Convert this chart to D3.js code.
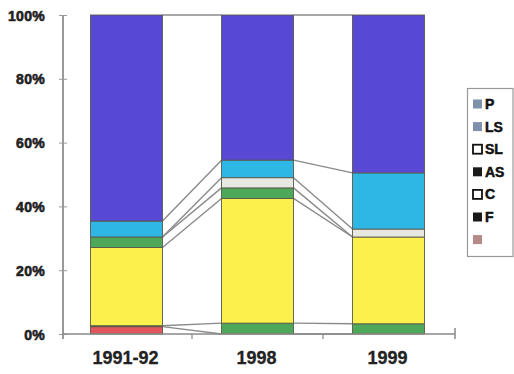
<!DOCTYPE html>
<html>
<head>
<meta charset="utf-8">
<script src="https://cdn.jsdelivr.net/npm/d3@7"></script>
<style>
  html, body { margin: 0; padding: 0; background: #fff; }
  svg { display: block; font-family: "Liberation Sans", Arial, sans-serif; }
</style>
</head>
<body>
<svg id="chart" width="514" height="374"></svg>
<script>
// Categories along the x axis
const categories = ["1991-92", "1998", "1999"];

// Series, stacked bottom to top (percent of each column)
const seriesNames = ["", "F", "C", "AS", "SL", "LS", "P"];
const valUnnamed = [2.3, 0.0, 0.0];
const valF  = [0.3, 3.4, 3.2];
const valC  = [24.5, 39.1, 27.2];
const valAS = [3.3, 3.3, 0.0];
const valSL = [0.0, 3.2, 2.5];
const valLS = [5.0, 5.5, 17.6];
const valP  = [64.6, 45.5, 49.5];

const yTicks = [0, 0.2, 0.4, 0.6, 0.8, 1.0];

// Fill colours of the column segments
const fillColors = {
  "": "#e0565c", "F": "#4ea85a", "C": "#fcf04c", "AS": "#4ea85a",
  "SL": "#e8e8e2", "LS": "#2eb6e4", "P": "#5749d4"
};
// Legend entries (top to bottom) with their swatch styles
const legendNames = ["P", "LS", "SL", "AS", "C", "F", ""];
const legendSwatch = {
  "P": { fill: "#7f90ad", stroke: "none" },
  "LS": { fill: "#7f90ad", stroke: "none" },
  "SL": { fill: "#fff", stroke: "#111" },
  "AS": { fill: "#1a1a1a", stroke: "none" },
  "C": { fill: "#fff", stroke: "#111" },
  "F": { fill: "#1a1a1a", stroke: "none" },
  "": { fill: "#b58a88", stroke: "none" }
};

const columns = [valUnnamed, valF, valC, valAS, valSL, valLS, valP];
const table = categories.map((cat, i) => {
  const row = { cat };
  seriesNames.forEach((s, k) => { row[s] = columns[k][i]; });
  return row;
});

const stacked = d3.stack()
  .keys(seriesNames)
  .offset(d3.stackOffsetExpand)(table);

const svg = d3.select("#chart");
const plotLeft = 63, plotRight = 455, plotTop = 15, plotBottom = 334;

const x = d3.scaleBand().domain(categories).range([plotLeft - 2, plotRight - 1]);
const barW = 72;
const y = d3.scaleLinear().domain([0, 1]).range([plotBottom, plotTop]);

// Series lines joining the segment boundaries of neighbouring columns
const lineG = svg.append("g");
stacked.forEach(layer => {
  for (let i = 0; i < categories.length - 1; i++) {
    const a = layer[i], b = layer[i + 1];
    const x1 = x(categories[i]) + x.bandwidth() / 2 + barW / 2;
    const x2 = x(categories[i + 1]) + x.bandwidth() / 2 - barW / 2;
    lineG.append("line")
      .attr("x1", x1).attr("y1", y(a[1]))
      .attr("x2", x2).attr("y2", y(b[1]))
      .attr("stroke", "#8a8a8a").attr("stroke-width", 1.4);
  }
});

// Stacked column segments
const barG = svg.append("g");
stacked.forEach(layer => {
  barG.selectAll(null)
    .data(layer.filter(d => d[1] - d[0] > 0))
    .join("rect")
    .attr("x", d => x(d.data.cat) + x.bandwidth() / 2 - barW / 2)
    .attr("width", barW)
    .attr("y", d => y(d[1]))
    .attr("height", d => y(d[0]) - y(d[1]))
    .attr("fill", fillColors[layer.key])
    .attr("stroke", "#5a5a4a")
    .attr("stroke-width", 0.9);
});

// Y axis
const yAxis = d3.axisLeft(y).tickValues(yTicks)
  .tickFormat(d3.format(".0%")).tickSizeInner(4).tickSizeOuter(0);
const yg = svg.append("g").attr("transform", `translate(${plotLeft},0)`).call(yAxis);
yg.select(".domain").attr("stroke", "#777").attr("stroke-width", 1.5)
  .attr("d", `M0,${plotTop}V${plotBottom + 5}`);
yg.selectAll(".tick line").attr("stroke", "#999").attr("x1", -4).attr("x2", 4);
yg.selectAll(".tick text")
  .attr("x", -18)
  .attr("dy", "0.36em")
  .attr("fill", "#222")
  .attr("stroke", "#222")
  .attr("stroke-width", 0.6)
  .style("font-size", "14px")
  .style("font-weight", "bold")
  .style("letter-spacing", "0.3px");

// X axis
const xg = svg.append("g").attr("transform", `translate(0,${plotBottom})`);
xg.append("line").attr("x1", plotLeft).attr("x2", plotRight).attr("y1", 0).attr("y2", 0)
  .attr("stroke", "#888").attr("stroke-width", 1.5);
const boundaries = categories.map(c => x(c) + x.bandwidth()).slice(0, -1);
xg.selectAll(".bt").data(boundaries).join("line")
  .attr("x1", d => d).attr("x2", d => d).attr("y1", 0).attr("y2", 5)
  .attr("stroke", "#888").attr("stroke-width", 1.2);
xg.append("line").attr("x1", plotRight).attr("x2", plotRight).attr("y1", -6).attr("y2", 5)
  .attr("stroke", "#888").attr("stroke-width", 1.5);
xg.selectAll("text").data(categories).join("text")
  .attr("x", d => x(d) + x.bandwidth() / 2 - 1)
  .attr("y", 30)
  .attr("text-anchor", "middle")
  .attr("fill", "#222")
  .attr("stroke", "#222")
  .attr("stroke-width", 0.3)
  .style("font-size", "18px")
  .style("font-weight", "bold")
  .text(d => d);

// Legend
const lg = svg.append("g");
lg.append("rect").attr("x", 467.5).attr("y", 88.5).attr("width", 45.5).attr("height", 168)
  .attr("fill", "#fff").attr("stroke", "#999").attr("stroke-width", 1.2);
legendNames.forEach((name, i) => {
  const cy = 104 + i * 22.6;
  const sw = legendSwatch[name];
  lg.append("rect").attr("x", 473).attr("y", cy - 4.5).attr("width", 9).attr("height", 9)
    .attr("fill", sw.fill).attr("stroke", sw.stroke).attr("stroke-width", 1.8);
  lg.append("text").attr("x", 485).attr("y", cy).attr("dy", "0.36em")
    .attr("fill", "#111").attr("stroke", "#111").attr("stroke-width", 0.5)
    .style("font-size", "14px").style("font-weight", "bold")
    .text(name);
});
</script>
</body>
</html>
